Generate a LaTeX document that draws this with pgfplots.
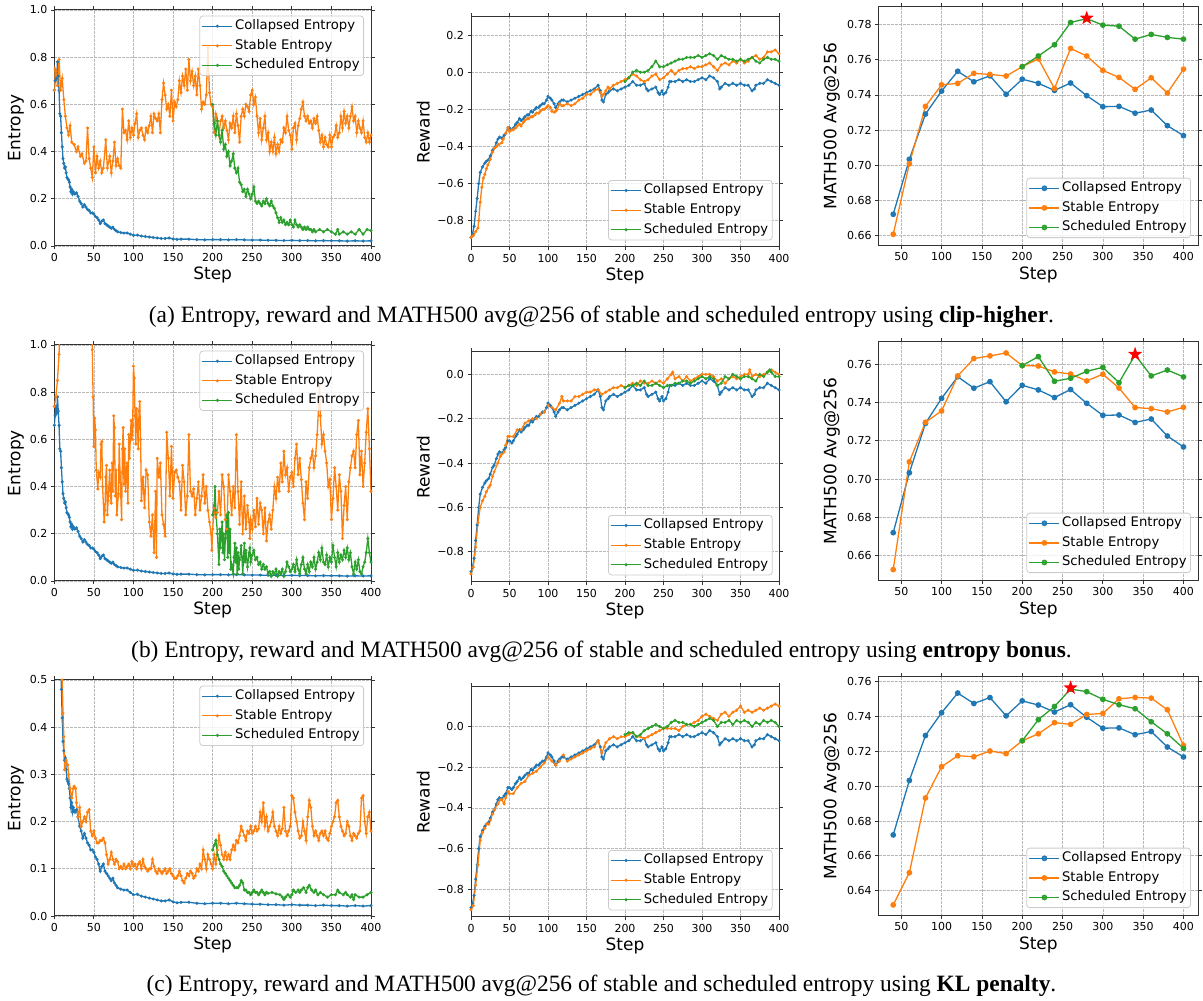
\documentclass[border=0pt]{standalone}
\usepackage{fontspec}
\setmainfont{Liberation Serif}
\newfontfamily\dejavu{DejaVu Sans}
\usepackage{pgfplots}
\usepackage{pgfplotstable}
\pgfplotsset{compat=1.18}
\definecolor{cblue}{HTML}{1F77B4}
\definecolor{corange}{HTML}{FF7F0E}
\definecolor{cgreen}{HTML}{2CA02C}
\pgfdeclareplotmark{fstar}{%
 \pgfpathmoveto{\pgfpointpolar{90}{\pgfplotmarksize}}%
 \pgfpathlineto{\pgfpointpolar{126}{0.4\pgfplotmarksize}}%
 \pgfpathlineto{\pgfpointpolar{162}{\pgfplotmarksize}}%
 \pgfpathlineto{\pgfpointpolar{198}{0.4\pgfplotmarksize}}%
 \pgfpathlineto{\pgfpointpolar{234}{\pgfplotmarksize}}%
 \pgfpathlineto{\pgfpointpolar{270}{0.4\pgfplotmarksize}}%
 \pgfpathlineto{\pgfpointpolar{306}{\pgfplotmarksize}}%
 \pgfpathlineto{\pgfpointpolar{342}{0.4\pgfplotmarksize}}%
 \pgfpathlineto{\pgfpointpolar{18}{\pgfplotmarksize}}%
 \pgfpathlineto{\pgfpointpolar{54}{0.4\pgfplotmarksize}}%
 \pgfpathclose\pgfusepathqfillstroke}

% shared baseline (collapsed entropy) series
\pgfplotstableread[row sep=\\]{x y\\0 0.66\\1 0.70\\2 0.74\\3 0.71\\4 0.78\\5 0.72\\6 0.66\\7 0.56\\8 0.55\\9 0.48\\10 0.42\\11 0.37\\12 0.35\\13 0.33\\14 0.335\\15 0.31\\16 0.29\\17 0.285\\18 0.28\\19 0.27\\20 0.25\\21 0.23\\22 0.24\\23 0.22\\24 0.23\\26 0.22\\28 0.225\\30 0.21\\32 0.19\\34 0.18\\36 0.165\\38 0.175\\40 0.165\\42 0.155\\44 0.15\\46 0.14\\48 0.14\\50 0.135\\52 0.125\\54 0.12\\56 0.11\\58 0.095\\60 0.105\\62 0.11\\64 0.095\\66 0.09\\68 0.085\\70 0.08\\72 0.075\\74 0.08\\76 0.07\\78 0.065\\80 0.06\\84 0.057\\88 0.055\\92 0.055\\96 0.05\\100 0.045\\105 0.046\\110 0.042\\115 0.04\\120 0.038\\125 0.036\\130 0.034\\135 0.032\\140 0.032\\145 0.034\\150 0.03\\155 0.028\\160 0.029\\170 0.029\\180 0.027\\190 0.026\\200 0.027\\210 0.027\\220 0.026\\230 0.027\\240 0.026\\250 0.025\\260 0.025\\270 0.024\\280 0.024\\290 0.023\\300 0.024\\310 0.023\\320 0.023\\330 0.022\\340 0.023\\350 0.022\\360 0.022\\370 0.021\\380 0.022\\390 0.021\\400 0.022\\}\CE
\pgfplotstableread[row sep=\\]{x y\\0 -0.89\\2 -0.87\\4 -0.83\\6 -0.75\\8 -0.68\\10 -0.60\\12 -0.54\\15 -0.51\\18 -0.49\\20 -0.48\\23 -0.47\\25 -0.45\\28 -0.42\\30 -0.41\\33 -0.38\\35 -0.36\\37 -0.35\\40 -0.355\\43 -0.34\\45 -0.33\\48 -0.30\\50 -0.30\\53 -0.31\\55 -0.30\\58 -0.28\\60 -0.27\\63 -0.25\\65 -0.26\\68 -0.25\\70 -0.24\\73 -0.23\\75 -0.23\\78 -0.21\\80 -0.215\\83 -0.20\\85 -0.19\\88 -0.19\\90 -0.18\\93 -0.17\\95 -0.17\\98 -0.15\\100 -0.13\\103 -0.14\\105 -0.15\\108 -0.17\\110 -0.19\\113 -0.17\\115 -0.16\\118 -0.15\\120 -0.15\\125 -0.16\\130 -0.15\\135 -0.14\\140 -0.13\\145 -0.12\\150 -0.11\\155 -0.10\\160 -0.09\\165 -0.07\\168 -0.10\\170 -0.15\\172 -0.16\\175 -0.12\\178 -0.11\\180 -0.10\\185 -0.09\\190 -0.10\\195 -0.09\\200 -0.08\\205 -0.07\\210 -0.05\\215 -0.07\\220 -0.07\\225 -0.06\\228 -0.09\\230 -0.10\\235 -0.09\\240 -0.08\\243 -0.11\\245 -0.12\\248 -0.10\\250 -0.12\\253 -0.11\\256 -0.08\\258 -0.05\\260 -0.05\\265 -0.05\\270 -0.04\\275 -0.05\\280 -0.04\\285 -0.05\\290 -0.05\\295 -0.04\\300 -0.03\\305 -0.04\\310 -0.02\\315 -0.03\\320 -0.05\\323 -0.09\\325 -0.08\\330 -0.06\\335 -0.07\\340 -0.06\\345 -0.07\\350 -0.06\\355 -0.07\\360 -0.07\\365 -0.10\\368 -0.09\\370 -0.07\\375 -0.06\\380 -0.06\\385 -0.04\\390 -0.05\\395 -0.06\\400 -0.07\\}\CR
\pgfplotstableread[row sep=\\]{x y\\40 0.672\\60 0.7033\\80 0.7291\\100 0.7422\\120 0.7535\\140 0.7475\\160 0.7509\\180 0.7404\\200 0.749\\220 0.7466\\240 0.7426\\260 0.7468\\280 0.7396\\300 0.7333\\320 0.7335\\340 0.7296\\360 0.7314\\380 0.7225\\400 0.7168\\}\CM

\pgfplotsset{
 myaxis/.style={
  scale only axis, anchor=south west,
  axis line style={black!80, line width=1pt},
  grid=major,
  major grid style={dash pattern=on 2.8pt off 1.2pt, black!28, line width=0.7pt},
  tick align=outside, major tick length=3.5pt,
  tick style={black!80, line width=0.8pt},
  tick label style={font=\dejavu\fontsize{11}{13}\selectfont},
  label style={font=\dejavu\fontsize{17}{20}\selectfont},
  xlabel={Step},
  xlabel style={at={(axis description cs:0.5,0)}, anchor=center, yshift=-29pt},
  legend cell align=left,
  legend style={font=\dejavu\fontsize{13.2}{15}\selectfont, draw=black!20, line width=0.8pt,
    rounded corners=3pt, fill=white, fill opacity=0.8, text opacity=1,
    inner xsep=2pt, inner ysep=2pt, row sep=3.3pt,
    nodes={inner sep=2pt, text height=9.5pt, text depth=2.8pt}},
  legend image code/.code={\draw[mark repeat=2,mark phase=2,##1] plot coordinates {(0pt,0pt) (15pt,0pt) (30pt,0pt)};},
  every axis plot/.append style={line width=1.3pt},
 },
 ent/.style={myaxis, width=316.7pt, height=236pt, xmin=0, xmax=400,
  xtick={0,50,100,150,200,250,300,350,400}, xticklabels={0,50,100,150,200,250,300,350,400},
  ylabel={Entropy}, ylabel style={at={(axis description cs:-0.121,0.5)}, anchor=center},
  legend style={at={(0.978,0.976)}, anchor=north east}},
 rew/.style={myaxis, width=308pt, height=230pt, xmin=0, xmax=400,
  xtick={0,50,100,150,200,250,300,350,400}, xticklabels={0,50,100,150,200,250,300,350,400},
  ylabel={Reward}, ylabel style={at={(axis description cs:-0.155,0.5)}, anchor=center},
  legend style={at={(0.9795,0.029)}, anchor=south east}},
 mth/.style={myaxis, width=319.3pt, height=239pt, xmin=22, xmax=418,
  xtick={50,100,150,200,250,300,350,400}, xticklabels={50,100,150,200,250,300,350,400},
  ylabel={MATH500 Avg@256}, ylabel style={at={(axis description cs:-0.147,0.5)}, anchor=center},
  legend style={at={(0.978,0.032)}, anchor=south east}},
 sb/.style={cblue, mark=*, mark size=0.8pt},
 so/.style={corange, mark=*, mark size=0.8pt},
 sg/.style={cgreen, mark=*, mark size=0.8pt},
 mb/.style={cblue, mark=*, mark size=2.2pt},
 mo/.style={corange, mark=*, mark size=2.2pt},
 mg/.style={cgreen, mark=*, mark size=2.2pt},
 star/.style={only marks, mark=fstar, mark size=5.5pt, red, forget plot},
}

\begin{document}
\begin{tikzpicture}
\useasboundingbox (0,0) rectangle (1203pt,1001pt);

% ================= (a) clip-higher =================
\begin{axis}[ent, at={(54.3pt,755pt)}, ymin=0, ymax=1,
  ytick={0,0.2,0.4,0.6,0.8,1.0}, yticklabels={0.0,0.2,0.4,0.6,0.8,1.0}]
\addplot[sb] table {\CE};
\addplot[so] table[row sep=\\]{x y\\0 0.66\\1 0.75\\2 0.74\\4 0.68\\6 0.79\\8 0.66\\10 0.71\\12 0.62\\14 0.55\\16 0.50\\18 0.47\\20 0.51\\22 0.44\\25 0.43\\28 0.40\\30 0.42\\33 0.38\\35 0.39\\38 0.35\\40 0.36\\42 0.50\\44 0.37\\46 0.33\\48 0.29\\50 0.42\\52 0.31\\54 0.38\\56 0.33\\58 0.36\\60 0.31\\62 0.33\\65 0.45\\67 0.33\\70 0.38\\72 0.31\\74 0.36\\76 0.44\\78 0.34\\80 0.37\\82 0.34\\84 0.33\\86 0.58\\88 0.48\\90 0.49\\92 0.45\\94 0.53\\96 0.46\\98 0.50\\100 0.47\\102 0.52\\104 0.56\\106 0.46\\108 0.49\\110 0.50\\112 0.47\\114 0.45\\116 0.50\\118 0.48\\120 0.51\\122 0.55\\124 0.48\\126 0.56\\128 0.54\\130 0.53\\132 0.56\\134 0.48\\136 0.62\\138 0.69\\140 0.64\\142 0.58\\144 0.60\\146 0.55\\148 0.66\\150 0.53\\152 0.61\\154 0.59\\156 0.62\\158 0.70\\160 0.65\\162 0.72\\164 0.68\\166 0.75\\168 0.66\\170 0.79\\172 0.70\\174 0.74\\176 0.68\\178 0.72\\180 0.64\\182 0.75\\184 0.68\\186 0.58\\188 0.61\\190 0.60\\192 0.64\\194 0.84\\196 0.65\\198 0.60\\200 0.59\\202 0.48\\204 0.56\\206 0.53\\208 0.47\\210 0.53\\212 0.55\\214 0.50\\216 0.53\\218 0.49\\220 0.45\\222 0.52\\224 0.50\\226 0.55\\228 0.48\\230 0.56\\232 0.51\\234 0.44\\236 0.55\\238 0.58\\240 0.55\\242 0.60\\244 0.59\\246 0.57\\248 0.64\\250 0.66\\252 0.60\\254 0.63\\256 0.55\\258 0.48\\260 0.54\\262 0.45\\264 0.50\\266 0.55\\268 0.45\\270 0.48\\272 0.40\\274 0.44\\276 0.40\\278 0.46\\280 0.39\\282 0.43\\284 0.40\\286 0.45\\288 0.44\\290 0.50\\292 0.48\\294 0.55\\296 0.49\\298 0.47\\300 0.41\\302 0.50\\304 0.52\\306 0.45\\308 0.51\\310 0.54\\312 0.58\\314 0.61\\316 0.55\\318 0.53\\320 0.55\\322 0.52\\324 0.53\\326 0.50\\328 0.54\\330 0.52\\332 0.55\\334 0.49\\336 0.44\\338 0.47\\340 0.42\\342 0.46\\344 0.43\\346 0.42\\348 0.47\\350 0.42\\352 0.46\\354 0.47\\356 0.51\\358 0.46\\360 0.48\\362 0.55\\364 0.50\\366 0.57\\368 0.52\\370 0.55\\372 0.50\\374 0.55\\376 0.59\\378 0.53\\380 0.55\\382 0.48\\384 0.53\\386 0.50\\388 0.48\\390 0.53\\392 0.46\\394 0.44\\396 0.48\\398 0.44\\400 0.47\\};
\addplot[sg] table[row sep=\\]{x y\\200 0.60\\202 0.52\\204 0.47\\206 0.53\\208 0.47\\210 0.44\\212 0.49\\214 0.41\\216 0.43\\218 0.38\\220 0.40\\222 0.34\\224 0.36\\226 0.39\\228 0.33\\230 0.31\\232 0.33\\234 0.27\\236 0.26\\238 0.23\\240 0.24\\242 0.21\\244 0.24\\246 0.22\\248 0.20\\250 0.22\\252 0.25\\254 0.19\\256 0.18\\258 0.19\\260 0.18\\262 0.17\\264 0.19\\266 0.18\\268 0.20\\270 0.18\\272 0.17\\274 0.19\\276 0.17\\278 0.16\\280 0.14\\282 0.12\\284 0.10\\286 0.12\\288 0.10\\290 0.11\\292 0.09\\294 0.10\\296 0.09\\298 0.11\\300 0.09\\302 0.08\\304 0.11\\306 0.09\\308 0.08\\310 0.09\\312 0.08\\314 0.07\\316 0.08\\318 0.07\\320 0.08\\322 0.07\\324 0.07\\326 0.06\\328 0.07\\330 0.06\\335 0.07\\340 0.06\\345 0.07\\350 0.06\\355 0.05\\358 0.07\\360 0.05\\365 0.06\\370 0.05\\375 0.06\\380 0.05\\385 0.07\\390 0.05\\395 0.07\\400 0.065\\};
\legend{Collapsed Entropy, Stable Entropy, Scheduled Entropy}
\end{axis}

\begin{axis}[rew, at={(471pt,754pt)}, ymin=-0.942, ymax=0.298,
  ytick={-0.8,-0.6,-0.4,-0.2,0,0.2}, yticklabels={−0.8,−0.6,−0.4,−0.2,0.0,0.2}]
\addplot[sb] table {\CR};
\addplot[so] table[row sep=\\]{x y\\0 -0.89\\3 -0.88\\6 -0.86\\9 -0.84\\10 -0.80\\12 -0.70\\14 -0.62\\16 -0.57\\18 -0.55\\20 -0.52\\22 -0.50\\25 -0.47\\28 -0.43\\30 -0.41\\33 -0.40\\36 -0.39\\40 -0.38\\42 -0.36\\45 -0.33\\48 -0.30\\50 -0.32\\53 -0.31\\55 -0.31\\58 -0.30\\60 -0.29\\63 -0.28\\65 -0.29\\68 -0.27\\70 -0.26\\73 -0.25\\75 -0.25\\78 -0.24\\80 -0.24\\83 -0.23\\85 -0.22\\88 -0.22\\90 -0.21\\93 -0.20\\95 -0.20\\98 -0.19\\100 -0.18\\103 -0.19\\105 -0.21\\108 -0.215\\110 -0.21\\112 -0.20\\115 -0.17\\118 -0.18\\120 -0.18\\125 -0.17\\130 -0.18\\135 -0.17\\140 -0.15\\145 -0.14\\150 -0.12\\155 -0.12\\160 -0.10\\165 -0.09\\168 -0.11\\170 -0.13\\172 -0.12\\175 -0.10\\178 -0.08\\180 -0.09\\185 -0.07\\190 -0.06\\195 -0.05\\200 -0.04\\205 -0.03\\210 -0.01\\215 -0.02\\220 -0.04\\225 -0.05\\230 -0.04\\235 -0.02\\240 -0.01\\245 -0.04\\250 -0.03\\255 -0.01\\260 0.01\\265 -0.01\\270 0.01\\275 0.02\\280 0.02\\285 0.03\\290 0.02\\295 0.03\\300 0.03\\305 0.04\\310 0.05\\315 0.03\\320 0.01\\325 0.04\\330 0.05\\335 0.04\\340 0.06\\345 0.05\\350 0.07\\355 0.05\\360 0.06\\365 0.08\\370 0.09\\375 0.07\\380 0.08\\385 0.11\\390 0.11\\395 0.12\\400 0.10\\};
\addplot[sg] table[row sep=\\]{x y\\200 -0.05\\205 -0.03\\210 0.0\\215 0.01\\220 0.0\\225 0.0\\230 0.01\\235 0.03\\240 0.06\\245 0.03\\250 0.03\\255 0.04\\260 0.05\\265 0.06\\270 0.07\\275 0.07\\280 0.08\\285 0.08\\290 0.08\\295 0.09\\300 0.08\\305 0.09\\310 0.10\\315 0.09\\320 0.07\\325 0.09\\330 0.08\\335 0.07\\340 0.07\\345 0.06\\350 0.07\\355 0.06\\360 0.07\\365 0.08\\370 0.06\\375 0.05\\380 0.07\\385 0.08\\390 0.07\\395 0.07\\400 0.06\\};
\legend{Collapsed Entropy, Stable Entropy, Scheduled Entropy}
\end{axis}

\begin{axis}[mth, at={(878.7pt,755.3pt)}, ymin=0.6541, ymax=0.7903,
  ytick={0.66,0.68,0.70,0.72,0.74,0.76,0.78}, yticklabels={0.66,0.68,0.70,0.72,0.74,0.76,0.78}]
\addplot[mb] table {\CM};
\addplot[mo] table[row sep=\\]{x y\\40 0.6606\\60 0.7008\\80 0.7335\\100 0.7458\\120 0.7466\\140 0.7523\\160 0.7517\\180 0.7508\\200 0.7561\\220 0.7606\\240 0.7437\\260 0.7665\\280 0.7622\\300 0.754\\320 0.75\\340 0.7432\\360 0.7498\\380 0.7411\\400 0.7547\\};
\addplot[mg] table[row sep=\\]{x y\\200 0.7561\\220 0.7622\\240 0.7686\\260 0.7813\\280 0.7835\\300 0.7798\\320 0.7792\\340 0.7718\\360 0.7745\\380 0.7728\\400 0.7718\\};
\addplot[star] table[row sep=\\]{x y\\280 0.7838\\};
\legend{Collapsed Entropy, Stable Entropy, Scheduled Entropy}
\end{axis}

% ================= (b) entropy bonus =================
\begin{axis}[ent, at={(54.3pt,420pt)}, ymin=0, ymax=1,
  ytick={0,0.2,0.4,0.6,0.8,1.0}, yticklabels={0.0,0.2,0.4,0.6,0.8,1.0}]
\addplot[sb] table {\CE};
\addplot[so] table[row sep=\\]{x y\\0 0.74\\2 0.78\\4 0.85\\6 0.96\\8 1.2\\46 1.2\\48 0.98\\49 0.78\\50 0.57\\51 0.69\\52 0.64\\53 0.47\\55 0.39\\56 0.46\\58 0.44\\59 0.58\\60 0.59\\61 0.40\\63 0.25\\64 0.30\\65 0.44\\66 0.49\\67 0.28\\68 0.34\\70 0.47\\71 0.36\\72 0.33\\73 0.50\\74 0.38\\75 0.70\\76 0.65\\77 0.36\\78 0.47\\79 0.28\\81 0.37\\82 0.58\\83 0.46\\84 0.36\\85 0.26\\86 0.56\\87 0.65\\88 0.41\\89 0.56\\90 0.38\\91 0.47\\92 0.50\\93 0.33\\94 0.62\\95 0.52\\97 0.68\\98 0.60\\99 0.66\\100 0.91\\101 0.86\\102 0.70\\103 0.58\\104 0.73\\105 0.66\\106 0.56\\107 0.72\\108 0.76\\109 0.60\\110 0.34\\112 0.44\\114 0.31\\116 0.47\\118 0.45\\120 0.25\\122 0.19\\124 0.28\\126 0.12\\128 0.38\\129 0.10\\130 0.52\\132 0.44\\134 0.50\\136 0.28\\138 0.24\\140 0.19\\142 0.63\\144 0.52\\146 0.36\\148 0.57\\150 0.35\\152 0.46\\154 0.47\\156 0.44\\158 0.42\\160 0.30\\162 0.49\\164 0.42\\166 0.28\\168 0.36\\170 0.62\\172 0.38\\174 0.36\\176 0.39\\178 0.28\\180 0.35\\182 0.42\\184 0.30\\186 0.36\\188 0.45\\190 0.33\\192 0.40\\194 0.30\\196 0.25\\198 0.20\\199 0.13\\200 0.22\\202 0.31\\204 0.27\\206 0.29\\208 0.38\\210 0.28\\212 0.45\\214 0.40\\216 0.26\\218 0.22\\220 0.45\\222 0.38\\224 0.28\\226 0.40\\228 0.31\\230 0.62\\232 0.38\\234 0.24\\236 0.42\\238 0.20\\240 0.36\\242 0.22\\244 0.32\\246 0.25\\247 0.18\\248 0.26\\250 0.22\\252 0.30\\254 0.23\\256 0.35\\258 0.24\\260 0.33\\262 0.30\\264 0.20\\266 0.31\\268 0.17\\270 0.25\\272 0.28\\274 0.22\\276 0.30\\278 0.40\\280 0.35\\282 0.44\\284 0.38\\286 0.50\\288 0.42\\290 0.55\\292 0.45\\294 0.48\\296 0.38\\298 0.44\\300 0.46\\302 0.40\\304 0.52\\306 0.58\\308 0.45\\310 0.52\\312 0.43\\314 0.33\\316 0.26\\318 0.42\\320 0.35\\322 0.48\\324 0.52\\326 0.55\\328 0.48\\330 0.53\\332 0.62\\334 0.75\\335 0.83\\336 0.70\\338 0.58\\340 0.62\\342 0.55\\344 0.50\\346 0.40\\348 0.43\\350 0.26\\352 0.35\\354 0.48\\356 0.40\\358 0.30\\360 0.45\\362 0.38\\364 0.18\\366 0.32\\368 0.40\\370 0.26\\372 0.42\\374 0.48\\376 0.53\\378 0.55\\380 0.48\\382 0.62\\384 0.68\\386 0.45\\388 0.55\\390 0.40\\392 0.50\\394 0.63\\396 0.73\\398 0.56\\400 0.38\\};
\addplot[sg] table[row sep=\\]{x y\\200 0.28\\202 0.32\\203 0.40\\204 0.30\\206 0.20\\208 0.07\\209 0.22\\210 0.14\\212 0.25\\213 0.12\\214 0.20\\215 0.09\\216 0.18\\218 0.28\\219 0.10\\220 0.29\\221 0.12\\222 0.22\\223 0.05\\224 0.07\\226 0.03\\227 0.10\\228 0.16\\229 0.08\\230 0.14\\231 0.03\\232 0.12\\233 0.05\\234 0.09\\236 0.15\\237 0.10\\238 0.03\\239 0.10\\240 0.16\\241 0.08\\242 0.13\\244 0.06\\246 0.12\\247 0.14\\248 0.08\\250 0.11\\252 0.13\\254 0.09\\256 0.10\\258 0.07\\260 0.08\\262 0.05\\264 0.07\\266 0.05\\268 0.06\\270 0.03\\272 0.04\\274 0.02\\276 0.04\\278 0.03\\280 0.05\\282 0.02\\284 0.04\\286 0.03\\288 0.05\\290 0.02\\292 0.04\\294 0.08\\296 0.06\\298 0.04\\300 0.05\\302 0.07\\304 0.04\\306 0.09\\308 0.05\\310 0.03\\312 0.07\\314 0.10\\316 0.05\\318 0.03\\320 0.07\\322 0.04\\324 0.08\\326 0.06\\328 0.10\\330 0.05\\332 0.08\\334 0.12\\336 0.09\\338 0.14\\340 0.08\\342 0.07\\344 0.11\\346 0.06\\348 0.10\\350 0.08\\352 0.15\\354 0.10\\356 0.06\\358 0.12\\360 0.08\\362 0.11\\364 0.09\\366 0.13\\368 0.10\\370 0.14\\372 0.09\\374 0.12\\376 0.06\\378 0.03\\380 0.08\\382 0.05\\384 0.09\\386 0.04\\388 0.03\\390 0.06\\392 0.08\\394 0.12\\396 0.18\\398 0.12\\400 0.08\\};
\legend{Collapsed Entropy, Stable Entropy, Scheduled Entropy}
\end{axis}

\begin{axis}[rew, at={(471pt,419pt)}, ymin=-0.937, ymax=0.101,
  ytick={-0.8,-0.6,-0.4,-0.2,0}, yticklabels={−0.8,−0.6,−0.4,−0.2,0.0}]
\addplot[sb] table {\CR};
\addplot[so] table[row sep=\\]{x y\\0 -0.90\\3 -0.87\\6 -0.78\\9 -0.67\\12 -0.60\\15 -0.57\\18 -0.55\\20 -0.53\\23 -0.51\\25 -0.50\\28 -0.46\\30 -0.44\\35 -0.40\\38 -0.37\\40 -0.36\\43 -0.35\\45 -0.32\\48 -0.28\\50 -0.28\\55 -0.28\\60 -0.25\\65 -0.25\\70 -0.22\\75 -0.21\\80 -0.20\\85 -0.20\\90 -0.18\\95 -0.17\\100 -0.14\\105 -0.15\\110 -0.16\\115 -0.13\\118 -0.10\\120 -0.12\\125 -0.12\\130 -0.12\\135 -0.10\\140 -0.10\\145 -0.09\\150 -0.08\\155 -0.08\\160 -0.07\\165 -0.07\\170 -0.09\\175 -0.08\\180 -0.07\\185 -0.06\\190 -0.06\\195 -0.05\\200 -0.06\\205 -0.05\\210 -0.04\\215 -0.05\\220 -0.03\\225 -0.04\\230 -0.04\\235 -0.03\\240 -0.04\\245 -0.03\\250 -0.04\\255 -0.02\\260 0.0\\262 0.01\\265 -0.02\\270 -0.01\\275 -0.03\\280 -0.01\\285 -0.03\\290 -0.02\\295 -0.01\\300 0.0\\305 0.0\\310 0.0\\315 -0.01\\320 -0.03\\325 -0.02\\330 -0.04\\335 -0.02\\340 -0.01\\345 -0.02\\350 -0.01\\355 0.0\\360 0.0\\362 0.02\\365 -0.01\\370 0.0\\375 -0.01\\380 0.0\\385 0.01\\390 0.02\\395 0.01\\400 0.0\\};
\addplot[sg] table[row sep=\\]{x y\\200 -0.06\\205 -0.05\\210 -0.05\\215 -0.04\\220 -0.05\\225 -0.03\\230 -0.05\\235 -0.05\\240 -0.04\\245 -0.05\\250 -0.06\\255 -0.05\\260 -0.05\\265 -0.04\\270 -0.04\\275 -0.03\\280 -0.03\\285 -0.04\\290 -0.03\\295 -0.02\\300 -0.01\\305 -0.02\\310 -0.01\\315 -0.02\\320 -0.05\\325 -0.04\\330 -0.01\\335 -0.02\\340 0.0\\345 -0.01\\350 -0.02\\355 -0.01\\360 -0.01\\365 -0.02\\370 -0.03\\375 0.0\\380 -0.01\\385 0.01\\388 0.02\\390 0.01\\395 -0.01\\400 -0.01\\};
\legend{Collapsed Entropy, Stable Entropy, Scheduled Entropy}
\end{axis}

\begin{axis}[mth, at={(878.7pt,420.3pt)}, ymin=0.6469, ymax=0.7718,
  ytick={0.66,0.68,0.70,0.72,0.74,0.76}, yticklabels={0.66,0.68,0.70,0.72,0.74,0.76}]
\addplot[mb] table {\CM};
\addplot[mo] table[row sep=\\]{x y\\40 0.6527\\60 0.709\\80 0.7297\\100 0.7356\\120 0.7539\\140 0.763\\160 0.7644\\180 0.7659\\200 0.7593\\220 0.7591\\240 0.756\\260 0.7549\\280 0.7513\\300 0.7548\\320 0.7476\\340 0.7374\\360 0.7368\\380 0.7351\\400 0.7375\\};
\addplot[mg] table[row sep=\\]{x y\\200 0.7593\\220 0.764\\240 0.7511\\260 0.7527\\280 0.7563\\300 0.7584\\320 0.7504\\340 0.7649\\360 0.7539\\380 0.757\\400 0.7534\\};
\addplot[star] table[row sep=\\]{x y\\340 0.7652\\};
\legend{Collapsed Entropy, Stable Entropy, Scheduled Entropy}
\end{axis}

% ================= (c) KL penalty =================
\begin{axis}[ent, at={(54.3pt,85pt)}, ymin=0, ymax=0.5,
  ytick={0,0.1,0.2,0.3,0.4,0.5}, yticklabels={0.0,0.1,0.2,0.3,0.4,0.5}]
\addplot[sb] table {\CE};
\addplot[so] table[row sep=\\]{x y\\0 0.72\\5 0.68\\8 0.60\\10 0.50\\11 0.43\\12 0.38\\13 0.31\\15 0.33\\17 0.32\\18 0.30\\20 0.27\\22 0.25\\24 0.27\\25 0.275\\27 0.27\\28 0.24\\30 0.21\\32 0.23\\34 0.19\\36 0.20\\38 0.21\\40 0.20\\42 0.22\\44 0.225\\46 0.18\\48 0.17\\50 0.18\\52 0.165\\54 0.155\\56 0.155\\58 0.16\\60 0.16\\62 0.165\\64 0.155\\66 0.13\\68 0.11\\70 0.12\\72 0.135\\74 0.12\\76 0.11\\78 0.12\\80 0.115\\82 0.10\\84 0.105\\86 0.10\\88 0.11\\90 0.10\\92 0.105\\94 0.11\\96 0.10\\98 0.115\\100 0.105\\102 0.11\\104 0.10\\106 0.11\\108 0.115\\110 0.10\\112 0.12\\114 0.105\\116 0.10\\118 0.095\\120 0.10\\122 0.10\\124 0.12\\126 0.105\\128 0.095\\130 0.09\\132 0.10\\134 0.095\\136 0.09\\138 0.095\\140 0.10\\142 0.09\\144 0.095\\146 0.10\\148 0.09\\150 0.085\\152 0.08\\154 0.08\\156 0.085\\158 0.095\\160 0.085\\162 0.075\\164 0.07\\166 0.08\\168 0.09\\170 0.085\\172 0.095\\174 0.09\\176 0.08\\178 0.085\\180 0.10\\182 0.095\\184 0.11\\186 0.10\\188 0.14\\190 0.12\\192 0.10\\194 0.13\\196 0.12\\198 0.11\\200 0.10\\202 0.13\\204 0.11\\206 0.14\\208 0.17\\210 0.15\\212 0.13\\214 0.12\\216 0.135\\218 0.12\\220 0.13\\222 0.12\\224 0.14\\226 0.15\\228 0.14\\230 0.16\\232 0.155\\234 0.17\\236 0.19\\238 0.18\\240 0.17\\242 0.16\\244 0.18\\246 0.175\\248 0.19\\250 0.175\\252 0.18\\254 0.19\\256 0.18\\258 0.185\\260 0.22\\262 0.20\\264 0.24\\266 0.19\\268 0.21\\270 0.18\\272 0.19\\274 0.20\\276 0.22\\278 0.19\\280 0.18\\282 0.17\\284 0.19\\286 0.175\\288 0.185\\290 0.23\\292 0.18\\294 0.17\\296 0.18\\298 0.19\\300 0.255\\302 0.25\\304 0.22\\306 0.20\\308 0.18\\310 0.165\\312 0.17\\314 0.20\\316 0.18\\318 0.16\\320 0.21\\322 0.245\\324 0.23\\326 0.19\\328 0.17\\330 0.18\\332 0.17\\334 0.16\\336 0.175\\338 0.18\\340 0.17\\342 0.18\\344 0.165\\346 0.16\\348 0.175\\350 0.19\\352 0.20\\354 0.21\\356 0.24\\358 0.245\\360 0.21\\362 0.19\\364 0.18\\366 0.17\\368 0.175\\370 0.20\\372 0.19\\374 0.17\\376 0.16\\378 0.175\\380 0.17\\382 0.165\\384 0.175\\386 0.18\\388 0.25\\390 0.255\\392 0.20\\394 0.175\\396 0.21\\398 0.22\\400 0.18\\};
\addplot[sg] table[row sep=\\]{x y\\200 0.14\\202 0.15\\204 0.16\\206 0.13\\208 0.12\\210 0.11\\212 0.105\\214 0.095\\216 0.09\\218 0.085\\220 0.08\\222 0.075\\224 0.07\\226 0.065\\228 0.06\\230 0.06\\232 0.06\\234 0.065\\236 0.075\\238 0.07\\240 0.055\\242 0.055\\244 0.05\\246 0.05\\248 0.045\\250 0.05\\252 0.055\\254 0.05\\256 0.05\\258 0.045\\260 0.05\\262 0.055\\264 0.05\\266 0.045\\268 0.05\\270 0.048\\275 0.05\\280 0.047\\285 0.045\\288 0.04\\290 0.035\\292 0.04\\295 0.045\\298 0.04\\300 0.045\\302 0.055\\305 0.05\\308 0.055\\310 0.05\\312 0.055\\315 0.06\\318 0.05\\320 0.06\\322 0.065\\325 0.055\\328 0.05\\330 0.055\\333 0.045\\336 0.05\\340 0.045\\345 0.04\\350 0.045\\355 0.045\\358 0.055\\360 0.05\\365 0.045\\368 0.05\\370 0.045\\374 0.04\\376 0.045\\378 0.035\\380 0.045\\385 0.04\\390 0.04\\395 0.045\\400 0.05\\};
\legend{Collapsed Entropy, Stable Entropy, Scheduled Entropy}
\end{axis}

\begin{axis}[rew, at={(471pt,84pt)}, ymin=-0.936, ymax=0.194,
  ytick={-0.8,-0.6,-0.4,-0.2,0}, yticklabels={−0.8,−0.6,−0.4,−0.2,0.0}]
\addplot[sb] table {\CR};
\addplot[so] table[row sep=\\]{x y\\0 -0.90\\3 -0.88\\6 -0.78\\9 -0.68\\12 -0.56\\15 -0.52\\18 -0.50\\20 -0.48\\23 -0.48\\25 -0.46\\28 -0.43\\30 -0.41\\35 -0.38\\38 -0.36\\40 -0.36\\43 -0.38\\45 -0.35\\48 -0.32\\50 -0.33\\55 -0.33\\60 -0.30\\65 -0.28\\70 -0.27\\75 -0.24\\80 -0.23\\85 -0.22\\90 -0.20\\95 -0.18\\100 -0.15\\105 -0.17\\110 -0.19\\115 -0.17\\120 -0.14\\125 -0.17\\130 -0.16\\135 -0.15\\140 -0.14\\145 -0.13\\150 -0.12\\155 -0.11\\160 -0.10\\165 -0.07\\170 -0.13\\173 -0.10\\175 -0.08\\180 -0.06\\185 -0.05\\190 -0.06\\195 -0.05\\200 -0.05\\205 -0.04\\210 -0.03\\215 -0.05\\220 -0.05\\225 -0.06\\230 -0.05\\235 -0.04\\240 -0.03\\245 -0.02\\250 -0.01\\255 -0.01\\260 -0.01\\265 -0.01\\270 -0.02\\275 0.0\\280 0.01\\285 0.01\\290 0.02\\295 0.03\\300 0.05\\305 0.06\\310 0.05\\315 0.04\\320 0.03\\325 0.06\\330 0.07\\335 0.05\\340 0.07\\345 0.08\\350 0.10\\355 0.07\\360 0.08\\365 0.07\\370 0.08\\375 0.09\\380 0.08\\385 0.09\\390 0.10\\395 0.11\\400 0.10\\};
\addplot[sg] table[row sep=\\]{x y\\200 -0.04\\205 -0.03\\210 -0.03\\215 -0.05\\220 -0.04\\225 -0.02\\230 -0.01\\235 0.0\\240 0.01\\245 0.0\\250 -0.01\\255 0.0\\260 0.02\\265 0.03\\270 0.02\\275 0.02\\280 0.01\\285 0.01\\290 0.0\\295 0.01\\300 0.02\\305 0.03\\310 0.04\\315 0.03\\320 0.0\\325 0.02\\330 0.02\\335 0.03\\340 0.01\\345 0.03\\350 0.02\\355 0.03\\360 0.02\\365 0.0\\370 0.02\\375 0.01\\380 0.03\\385 0.02\\390 0.03\\395 0.02\\400 0.0\\};
\legend{Collapsed Entropy, Stable Entropy, Scheduled Entropy}
\end{axis}

\begin{axis}[mth, at={(878.7pt,85.3pt)}, ymin=0.6256, ymax=0.7629,
  ytick={0.64,0.66,0.68,0.70,0.72,0.74,0.76}, yticklabels={0.64,0.66,0.68,0.70,0.72,0.74,0.76}]
\addplot[mb] table {\CM};
\addplot[mo] table[row sep=\\]{x y\\40 0.6318\\60 0.6503\\80 0.6932\\100 0.7112\\120 0.7175\\140 0.7169\\160 0.7202\\180 0.7187\\200 0.7261\\220 0.7301\\240 0.7365\\260 0.7355\\280 0.7412\\300 0.7418\\320 0.7502\\340 0.751\\360 0.7506\\380 0.7439\\400 0.7234\\};
\addplot[mg] table[row sep=\\]{x y\\200 0.7261\\220 0.7382\\240 0.7458\\260 0.7558\\280 0.7543\\300 0.7499\\320 0.7468\\340 0.7445\\360 0.737\\380 0.7301\\400 0.7217\\};
\addplot[star] table[row sep=\\]{x y\\260 0.7565\\};
\legend{Collapsed Entropy, Stable Entropy, Scheduled Entropy}
\end{axis}

% captions
\node[font=\fontsize{23.4}{27}\selectfont] at (601.5pt,684pt) {(a) Entropy, reward and MATH500 avg@256 of stable and scheduled entropy using \textbf{clip-higher}.};
\node[font=\fontsize{23.4}{27}\selectfont] at (601.5pt,349pt) {(b) Entropy, reward and MATH500 avg@256 of stable and scheduled entropy using \textbf{entropy bonus}.};
\node[font=\fontsize{23.4}{27}\selectfont] at (601.5pt,15pt) {(c) Entropy, reward and MATH500 avg@256 of stable and scheduled entropy using \textbf{KL penalty}.};
\end{tikzpicture}
\end{document}
